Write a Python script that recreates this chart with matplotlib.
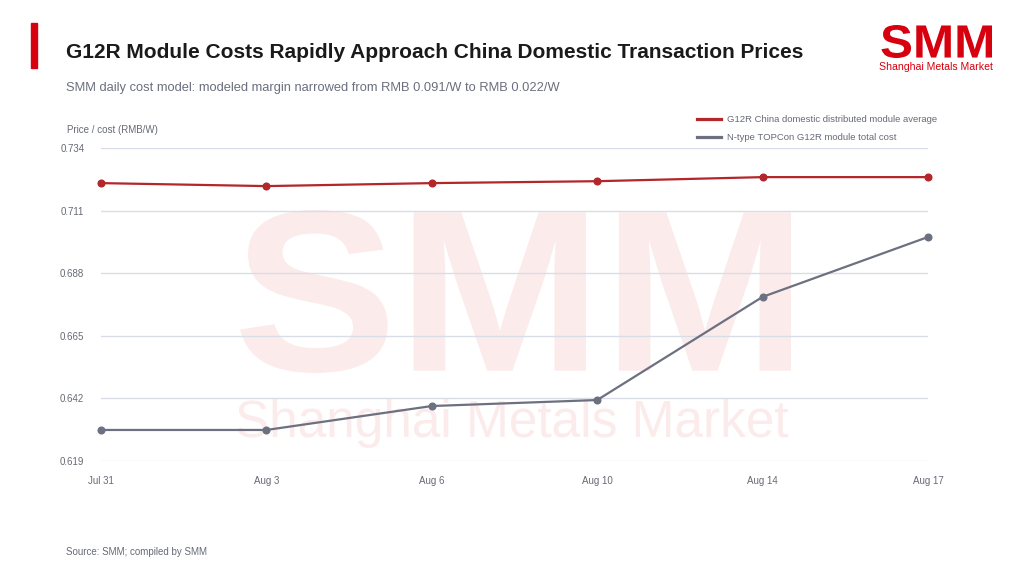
import matplotlib
matplotlib.use("Agg")
import matplotlib.pyplot as plt
from matplotlib.patches import Rectangle, PathPatch
from matplotlib.lines import Line2D
from matplotlib.textpath import TextPath
from matplotlib.font_manager import FontProperties
from matplotlib.path import Path

plt.rcParams['font.family'] = ['Liberation Sans', 'DejaVu Sans']

# data
dates = ["Jul 31", "Aug 3", "Aug 6", "Aug 10", "Aug 14", "Aug 17"]
price_avg = [0.7211, 0.7200, 0.7211, 0.7218, 0.7233, 0.7233]
module_cost = [0.6304, 0.6304, 0.6392, 0.6414, 0.6793, 0.7013]
y_ticks = [0.619, 0.642, 0.665, 0.688, 0.711, 0.734]
series_names = ["G12R China domestic distributed module average",
                "N-type TOPCon G12R module total cost"]

RED = "#b3262a"
GRAY = "#6c7080"
BRAND = "#d7000f"
W, H = 1024, 576

def fx(px):
	return px / W
def fy(py):
	return 1 - py / H

def boxed_text(axp, s, x0, y0, x1, y1, color, weight="bold"):
	# text outline stretched to fill a pixel box (y pointing down)
	tp = TextPath((0, 0), s, size=100, prop=FontProperties(family="Liberation Sans", weight=weight))
	v = tp.vertices.copy()
	bx0, by0 = v.min(axis=0)
	bx1, by1 = v.max(axis=0)
	v[:, 0] = x0 + (v[:, 0] - bx0) / (bx1 - bx0) * (x1 - x0)
	v[:, 1] = y1 - (v[:, 1] - by0) / (by1 - by0) * (y1 - y0)
	axp.add_patch(PathPatch(Path(v, tp.codes), facecolor=color, edgecolor="none"))

fig = plt.figure(figsize=(10.24, 5.76), dpi=100)
fig.patch.set_facecolor("white")

# background layer in pixel coordinates
bg = fig.add_axes([0, 0, 1, 1], zorder=0)
bg.set_xlim(0, W)
bg.set_ylim(H, 0)
bg.axis("off")
boxed_text(bg, "SMM", 233, 210, 791, 373, "#fcebeb")
bg.text(512, 423, "Shanghai Metals Market", fontsize=37, color="#fcebeb", ha="center", va="center")
boxed_text(bg, "SMM", 880, 25, 992, 58, BRAND)
bg.text(936, 67, "Shanghai Metals Market", fontsize=7.6, color=BRAND, ha="center", va="center")
bg.add_patch(Rectangle((31, 23), 6, 45, color=BRAND))

ax = fig.add_axes([fx(101), fy(461), fx(928) - fx(101), fy(148) - fy(461)], zorder=2)
ax.patch.set_alpha(0)
x = list(range(len(dates)))
ax.plot(x, price_avg, color=RED, lw=1.6, marker="o", ms=4.8, zorder=3, clip_on=False)
ax.plot(x, module_cost, color=GRAY, lw=1.6, marker="o", ms=4.8, zorder=3, clip_on=False)
ax.set_xlim(0, len(dates) - 1)
ax.set_ylim(y_ticks[0], y_ticks[-1])
ax.set_yticks(y_ticks)
ax.set_yticklabels(["%.3f" % v for v in y_ticks])
ax.set_xticks(x)
ax.set_xticklabels(dates)
ax.tick_params(length=0, labelsize=7, colors="#666a75")
ax.tick_params(axis="x", pad=11)
ax.tick_params(axis="y", pad=12)
for s in ax.spines.values():
	s.set_visible(False)
ax.grid(axis="y", color="#d9dde8", lw=1)
ax.set_axisbelow(True)

# header
fig.text(fx(66), fy(53), "G12R Module Costs Rapidly Approach China Domestic Transaction Prices",
	fontsize=15, fontweight="bold", color="#1a1a1a", va="center")
fig.text(fx(66), fy(88), "SMM daily cost model: modeled margin narrowed from RMB 0.091/W to RMB 0.022/W",
	fontsize=9.3, color="#6b6e7e", va="center")
fig.text(fx(67), fy(130), "Price / cost (RMB/W)", fontsize=7, color="#666a75", va="center")

# legend
for i, (name, col) in enumerate(zip(series_names, [RED, GRAY])):
	yy = fy(119 + 18 * i)
	fig.add_artist(Line2D([fx(697), fx(721)], [yy, yy], color=col, lw=2.3, transform=fig.transFigure))
	fig.text(fx(727), yy, name, fontsize=6.8, color="#666a75", va="center")

fig.text(fx(66), fy(552), "Source: SMM; compiled by SMM", fontsize=7, color="#666a75", va="center")

fig.savefig("out.png", dpi=100)
